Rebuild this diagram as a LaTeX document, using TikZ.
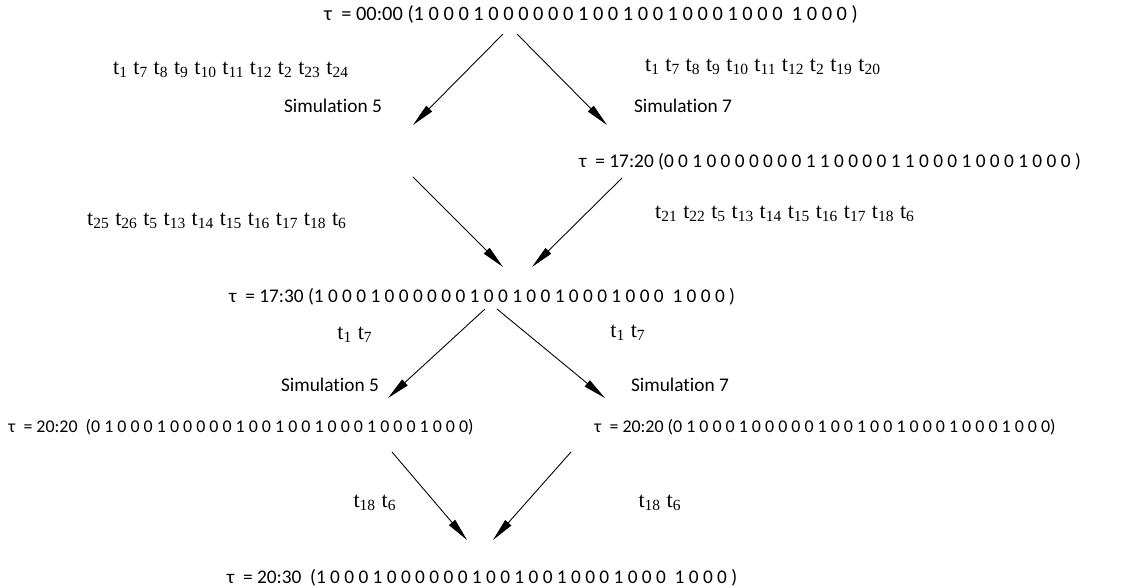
\documentclass[tikz,border=0pt]{standalone}
\usepackage{fontspec}
\setmainfont{Liberation Serif}
\newfontfamily\calibrifont[Ligatures=NoCommon]{Carlito}
\usetikzlibrary{arrows.meta,positioning}
\newcommand{\tsub}[1]{t\textsubscript{#1}}
\tikzset{
  state/.style={font=\calibrifont\fontsize{11}{13}\selectfont, inner sep=0pt},
  smallstate/.style={font=\calibrifont\fontsize{10.2}{12}\selectfont, inner sep=0pt},
  sim/.style={font=\calibrifont\fontsize{11}{13}\selectfont, inner sep=0pt},
  trans/.style={font=\rmfamily\fontsize{12.6}{14}\selectfont, inner sep=0pt},
  arrow/.style={-{Triangle[length=4.6mm,width=1.6mm]}, line width=0.5pt}
}
\begin{document}
\begin{tikzpicture}[x=0.2mm, y=-0.2mm]
  \useasboundingbox (0,0) rectangle (1125,588);
  % states
  \node[state, font=\calibrifont\fontsize{11.6}{13}\selectfont] (s0) at (591,14) {τ\ \ = 00:00 (1 0 0 0 1 0 0 0 0 0 0 1 0 0 1 0 0 1 0 0 0 1 0 0 0\ \ 1 0 0 0 )};
  \node[state] (s1) at (830,162) {τ\ \ = 17:20 (0 0 1 0 0 0 0 0 0 0 1 1 0 0 0 0 1 1 0 0 0 1 0 0 0 1 0 0 0 )};
  \node[state] (s2) at (482,297) {τ\ \ = 17:30 (1 0 0 0 1 0 0 0 0 0 0 1 0 0 1 0 0 1 0 0 0 1 0 0 0\ \ 1 0 0 0 )};
  \node[smallstate] (s3) at (241,427) {τ\ \ = 20:20\ \ (0 1 0 0 0 1 0 0 0 0 0 1 0 0 1 0 0 1 0 0 0 1 0 0 0 1 0 0 0)};
  \node[smallstate] (s4) at (825,427) {τ\ \ = 20:20 (0 1 0 0 0 1 0 0 0 0 0 1 0 0 1 0 0 1 0 0 0 1 0 0 0 1 0 0 0)};
  \node[state] (s5) at (482,578) {τ\ \ = 20:30\ \ (1 0 0 0 1 0 0 0 0 0 0 1 0 0 1 0 0 1 0 0 0 1 0 0 0\ \ 1 0 0 0 )};
  % transitions
  \node[trans] (l1) at (231,70) {\tsub{1} \tsub{7} \tsub{8} \tsub{9} \tsub{10} \tsub{11} \tsub{12} \tsub{2} \tsub{23} \tsub{24}};
  \node[trans] (r1) at (763,67) {\tsub{1} \tsub{7} \tsub{8} \tsub{9} \tsub{10} \tsub{11} \tsub{12} \tsub{2} \tsub{19} \tsub{20}};
  \node[sim] (sim5a) at (333,106) {Simulation 5};
  \node[sim] (sim7a) at (683,106) {Simulation 7};
  \node[trans] (l2) at (217,221) {\tsub{25} \tsub{26} \tsub{5} \tsub{13} \tsub{14} \tsub{15} \tsub{16} \tsub{17} \tsub{18} \tsub{6}};
  \node[trans] (r2) at (785,214) {\tsub{21} \tsub{22} \tsub{5} \tsub{13} \tsub{14} \tsub{15} \tsub{16} \tsub{17} \tsub{18} \tsub{6}};
  \node[trans] (l3) at (355,335) {\tsub{1} \tsub{7}};
  \node[trans] (r3) at (628,333) {\tsub{1} \tsub{7}};
  \node[sim] (sim5b) at (330,385) {Simulation 5};
  \node[sim] (sim7b) at (680,385) {Simulation 7};
  \node[trans] (l4) at (375,503) {\tsub{18} \tsub{6}};
  \node[trans] (r4) at (660,503) {\tsub{18} \tsub{6}};
  % arrow ends
  \coordinate (s0l) at (503,34);  \coordinate (s0r) at (517,34);
  \coordinate (a5) at (413,125);  \coordinate (a7) at (607,125);
  \coordinate (b5) at (413,177);  \coordinate (s1l) at (622,178);
  \coordinate (s2l) at (503,267); \coordinate (s2r) at (532,267);
  \coordinate (s2a) at (485,309); \coordinate (s2b) at (497,309);
  \coordinate (c5) at (388,398);  \coordinate (c7) at (605,398);
  \coordinate (s3r) at (392,452); \coordinate (s4l) at (571,452);
  \coordinate (s5l) at (467,540); \coordinate (s5r) at (493,540);
  \draw[arrow] (s0l)--(a5); \draw[arrow] (s0r)--(a7);
  \draw[arrow] (b5)--(s2l); \draw[arrow] (s1l)--(s2r);
  \draw[arrow] (s2a)--(c5); \draw[arrow] (s2b)--(c7);
  \draw[arrow] (s3r)--(s5l); \draw[arrow] (s4l)--(s5r);
\end{tikzpicture}
\end{document}
